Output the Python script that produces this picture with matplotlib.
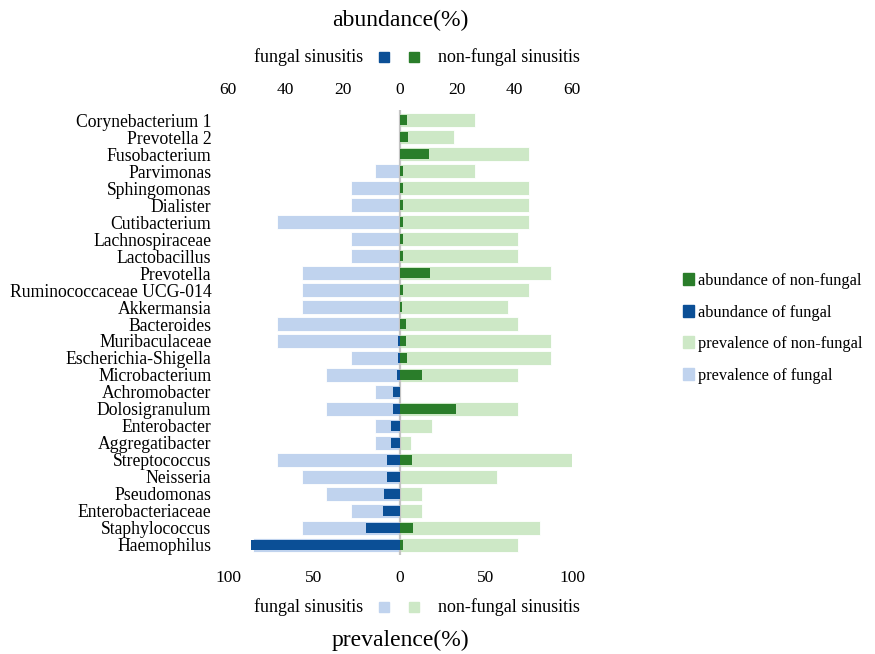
import matplotlib.pyplot as plt
import numpy as np
from matplotlib.patches import Patch

plt.rcParams['font.family'] = ['Liberation Serif', 'DejaVu Serif']

taxa = ['Corynebacterium 1', 'Prevotella 2', 'Fusobacterium', 'Parvimonas',
        'Sphingomonas', 'Dialister', 'Cutibacterium', 'Lachnospiraceae',
        'Lactobacillus', 'Prevotella', 'Ruminococcaceae UCG-014', 'Akkermansia',
        'Bacteroides', 'Muribaculaceae', 'Escherichia-Shigella', 'Microbacterium',
        'Achromobacter', 'Dolosigranulum', 'Enterobacter', 'Aggregatibacter',
        'Streptococcus', 'Neisseria', 'Pseudomonas', 'Enterobacteriaceae',
        'Staphylococcus', 'Haemophilus']

prev_fungal = [0, 0, 0, 14.3, 28.6, 28.6, 71.4, 28.6, 28.6, 57.1, 57.1, 57.1,
               71.4, 71.4, 28.6, 42.9, 14.3, 42.9, 14.3, 14.3, 71.4, 57.1,
               42.9, 28.6, 57.1, 85.7]
prev_nonfungal = [43.75, 31.25, 75, 43.75, 75, 75, 75, 68.75, 68.75, 87.5, 75,
                  62.5, 68.75, 87.5, 87.5, 68.75, 0, 68.75, 18.75, 6.25, 100,
                  56.25, 12.5, 12.5, 81.25, 68.75]
abund_fungal = [0, 0, 0, 0, 0, 0, 0, 0, 0, 0, 0, 0, 0, 0.7, 0.7, 1.0, 2.4, 2.4,
                3.0, 3.0, 4.5, 4.5, 5.7, 6.0, 11.8, 52.0]
abund_nonfungal = [2.5, 2.8, 10.2, 1.2, 1.2, 1.2, 1.2, 0.9, 1.2, 10.6, 1.2, 0.8,
                   2.1, 2.1, 2.5, 7.8, 0, 19.4, 0, 0, 4.1, 0, 0, 0, 4.5, 1.2]

prev_ticks = [-100, -50, 0, 50, 100]
abund_ticks = [-60, -40, -20, 0, 20, 40, 60]

c_dark_green = '#2a7d2a'
c_dark_blue = '#0b4f96'
c_light_green = '#cde8c6'
c_light_blue = '#c0d3ee'

y = np.arange(len(taxa))

fig = plt.figure(figsize=(8.75, 6.54), dpi=100)
ax = fig.add_axes([228 / 875, 99 / 654, 344 / 875, 445 / 654])

# prevalence (light bars)
ax.barh(y, -np.array(prev_fungal), height=0.82, color=c_light_blue,
        edgecolor='white', linewidth=0.6)
ax.barh(y, prev_nonfungal, height=0.82, color=c_light_green,
        edgecolor='white', linewidth=0.6)
ax.set_xlim(-100, 100)
ax.set_ylim(len(taxa) - 0.4, -0.6)
ax.set_yticks(y)
ax.set_yticklabels(taxa, fontsize=12.7)
ax.set_xticks(prev_ticks)
ax.set_xticklabels([str(abs(t)) for t in prev_ticks], fontsize=12.5)
ax.tick_params(axis='both', length=0)
ax.tick_params(axis='y', pad=12)
ax.tick_params(axis='x', pad=11)
for s in ax.spines.values():
    s.set_visible(False)

# abundance (dark bars)
ax2 = ax.twiny()
ax2.barh(y, -np.array(abund_fungal), height=0.62, color=c_dark_blue)
ax2.barh(y, abund_nonfungal, height=0.62, color=c_dark_green)
ax2.axvline(0, color='#c4c4c4', lw=1.6, zorder=0.5)
ax2.set_xlim(-60, 60)
ax2.set_xticks(abund_ticks)
ax2.set_xticklabels([str(abs(t)) for t in abund_ticks], fontsize=12.5)
ax2.tick_params(axis='x', length=0, pad=9)
for s in ax2.spines.values():
    s.set_visible(False)

# titles and the little side legends
fig.text(400 / 875, 1 - 20 / 654, 'abundance(%)', ha='center', va='center', fontsize=17)
fig.text(400 / 875, 1 - 640 / 654, 'prevalence(%)', ha='center', va='center', fontsize=17)

for ypix, cl, cr in [(57, c_dark_blue, c_dark_green), (607, c_light_blue, c_light_green)]:
    yf = 1 - ypix / 654
    fig.text(363 / 875, yf, 'fungal sinusitis', ha='right', va='center', fontsize=13)
    fig.text(438 / 875, yf, 'non-fungal sinusitis', ha='left', va='center', fontsize=13)
    fig.lines.append(plt.Line2D([384 / 875], [yf], marker='s', markersize=7,
                                color=cl, transform=fig.transFigure, linestyle=''))
    fig.lines.append(plt.Line2D([414 / 875], [yf], marker='s', markersize=7,
                                color=cr, transform=fig.transFigure, linestyle=''))

handles = [Patch(color=c_dark_green, label='abundance of non-fungal'),
           Patch(color=c_dark_blue, label='abundance of fungal'),
           Patch(color=c_light_green, label='prevalence of non-fungal'),
           Patch(color=c_light_blue, label='prevalence of fungal')]
fig.legend(handles=handles, loc='upper left', bbox_to_anchor=(683 / 875, 1 - 273 / 654),
           frameon=False, fontsize=11.8, handlelength=0.65, handleheight=0.75,
           handletextpad=0.25, labelspacing=0.95, borderaxespad=0, borderpad=0)

fig.savefig('out.png', dpi=100)
